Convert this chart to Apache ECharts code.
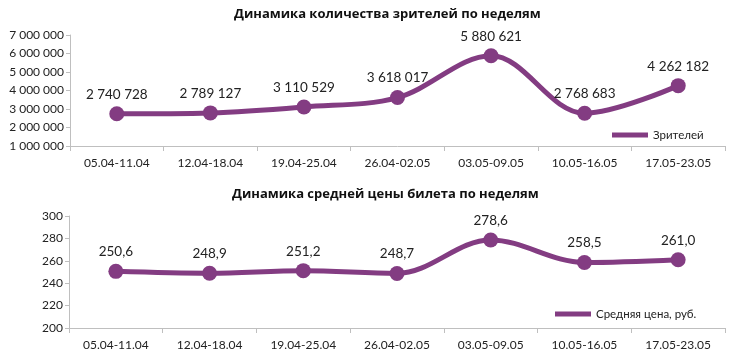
<!DOCTYPE html>
<html><head><meta charset="utf-8">
<script src="https://cdn.jsdelivr.net/npm/echarts@6/dist/echarts.min.js"></script>
<style>html,body{margin:0;padding:0;background:#fff}#c{width:731px;height:359px}</style>
</head><body><div id="c"></div>
<script>
const categories = ["05.04-11.04","12.04-18.04","19.04-25.04","26.04-02.05","03.05-09.05","10.05-16.05","17.05-23.05"];
const viewers = [2740728, 2789127, 3110529, 3618017, 5880621, 2768683, 4262182];
const avgPrice = [250.6, 248.9, 251.2, 248.7, 278.6, 258.5, 261.0];
const title1 = "Динамика количества зрителей по неделям";
const title2 = "Динамика средней цены билета по неделям";
const legend1 = "Зрителей";
const legend2 = "Средняя цена, руб.";

const FONT = "Lato, 'Open Sans', sans-serif";
const COLOR = "#833C82";
const AXIS = "#BFBFBF";
const sp = v => String(v).replace(/\B(?=(\d{3})+(?!\d))/g, " ");

const chart = echarts.init(document.getElementById('c'), null, {renderer:'canvas'});
function xAxis(idx){
  return {type:'category', gridIndex:idx, data:categories, boundaryGap:true,
    axisLine:{lineStyle:{color:AXIS,width:1}},
    axisTick:{show:true, length:5, lineStyle:{color:AXIS}},
    axisLabel:{color:'#222', fontFamily:FONT, fontSize:12, margin:11}};
}
function yAxis(idx, min, max, interval, fmt){
  return {type:'value', gridIndex:idx, min, max, interval,
    axisLine:{show:true, lineStyle:{color:AXIS}},
    axisTick:{show:true, length:4, lineStyle:{color:AXIS}},
    splitLine:{show:false},
    axisLabel:{color:'#222', fontFamily:FONT, fontSize:12, margin:6, formatter:fmt}};
}
const titleStyle = {fontFamily:"'Open Sans', Lato, sans-serif", fontSize:13, fontWeight:'bold', color:'#111'};
chart.setOption({
  animation:false,
  title:[
    {text:title1, left:229, top:3, textStyle:titleStyle},
    {text:title2, left:227, top:183, textStyle:titleStyle}
  ],
  legend:[
    {data:[legend1], left:607, top:124, icon:'rect', itemWidth:36, itemHeight:5, itemGap:6,
     textStyle:{fontFamily:FONT, fontSize:11.5, color:'#222'}},
    {data:[legend2], left:550, top:303, icon:'rect', itemWidth:36, itemHeight:5, itemGap:6,
     textStyle:{fontFamily:FONT, fontSize:11.5, color:'#222'}}
  ],
  grid:[
    {left:70, right:6, top:35, bottom:213},
    {left:69, right:6, top:216, bottom:31}
  ],
  xAxis:[xAxis(0), xAxis(1)],
  yAxis:[yAxis(0,1000000,7000000,1000000, v=>sp(v)), yAxis(1,200,300,20, v=>String(v))],
  series:[
    {name:legend1, type:'line', xAxisIndex:0, yAxisIndex:0, data:viewers, smooth:0.35,
     symbol:'circle', symbolSize:15, lineStyle:{color:COLOR,width:5}, itemStyle:{color:COLOR},
     label:{show:true, position:'top', distance:5, fontFamily:FONT, fontSize:13.5, color:'#222', formatter:p=>sp(p.value)}},
    {name:legend2, type:'line', xAxisIndex:1, yAxisIndex:1, data:avgPrice, smooth:0.35,
     symbol:'circle', symbolSize:15, lineStyle:{color:COLOR,width:5}, itemStyle:{color:COLOR},
     label:{show:true, position:'top', distance:5, fontFamily:FONT, fontSize:13.5, color:'#222', formatter:p=>p.value.toFixed(1).replace('.',',')}}
  ]
});
</script></body></html>
